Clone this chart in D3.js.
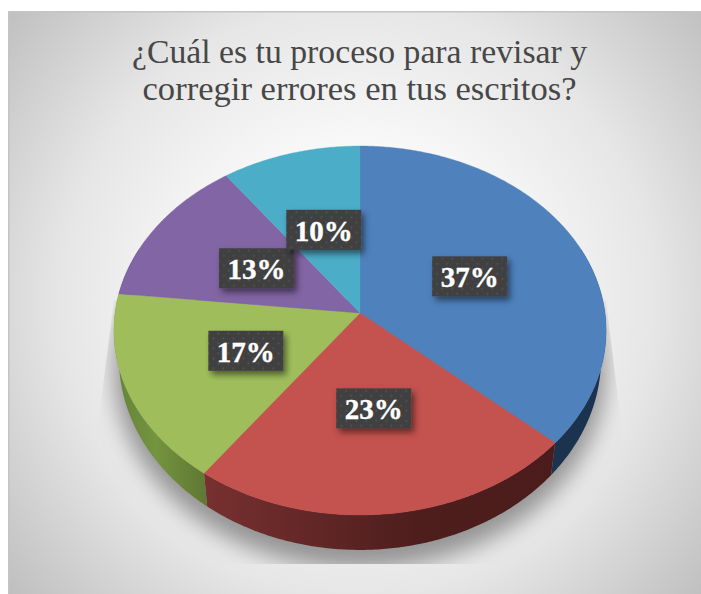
<!DOCTYPE html>
<html><head><meta charset="utf-8">
<script src="https://cdn.jsdelivr.net/npm/d3@7"></script>
<style>html,body{margin:0;padding:0;background:#fff;overflow:hidden}svg{display:block}</style>
</head><body><svg id="c" width="701" height="594"></svg>
<script>
const categories = ["Opción 1","Opción 2","Opción 3","Opción 4","Opción 5"];
const values = [36.6,23.4,16.7,13.3,10];
const topColors = ["#4f81bd","#c4524f","#9fbe5b","#8265a4","#4badc8"];
const wallStops = [
  [["0","#1c3350"],["1","#1c3350"]],
  [["0","#783030"],["0.6","#4e1e1d"],["1","#4c1c1c"]],
  [["0","#64833a"],["0.45","#74943f"],["1","#5f7733"]],
  [["0","#5f4b7a"],["1","#5f4b7a"]],
  [["0","#37808f"],["1","#37808f"]]
];
const titleLines = ["¿Cuál es tu proceso para revisar y","corregir errores en tus escritos?"];

const svg = d3.select("#c"), defs = svg.append("defs");

// background
const bg = defs.append("radialGradient").attr("id","bg").attr("gradientUnits","userSpaceOnUse")
  .attr("cx",358).attr("cy",300).attr("r",480);
[[0,"#ffffff"],[0.28,"#fbfbfb"],[0.62,"#e6e6e6"],[1,"#b9b9b9"]].forEach(s=>bg.append("stop").attr("offset",s[0]).attr("stop-color",s[1]));
svg.append("rect").attr("x",8).attr("y",11).attr("width",693).attr("height",583).attr("fill","#c4c4c4");
svg.append("rect").attr("x",9.5).attr("y",12.5).attr("width",691.5).attr("height",581.5).attr("fill","url(#bg)");

// perspective pie geometry
const k = 0.0949;
const xScale = d3.scaleLinear().domain([-1,1]).range([115,605]);
const yScale = d3.scaleLinear().domain([-1,1]).range([130.2,495.8]);
const xBase = d3.scaleLinear().domain([-1,1]).range([120,600]);
const yBase = d3.scaleLinear().domain([-1,1]).range([150,530]);
const proj = (ang,r,xs,ys)=>{
  const X = r*Math.sin(ang), Y = -r*Math.cos(ang), w = 1-k*Y;
  return [xs(X/w), ys(Y/w)];
};
const pie = d3.pie().sort(null).value(d=>d)(values);
const line = d3.line();
const arcPts = (a0,a1,xs,ys)=>{
  const n = Math.max(2,Math.ceil(Math.abs(a1-a0)/0.01));
  return d3.range(n+1).map(i=>proj(a0+(a1-a0)*i/n,1,xs,ys));
};

// shadow
defs.append("filter").attr("id","blur").attr("x","-20%").attr("y","-20%").attr("width","140%").attr("height","140%")
  .append("feGaussianBlur").attr("stdDeviation",11);
defs.append("clipPath").attr("id","shClip").append("path")
  .attr("d","M114,300L97,432L97,564L622,564L622,432L606,300Z");
const shadowPts = arcPts(0,2*Math.PI,d3.scaleLinear().domain([-1,1]).range([115,605]),d3.scaleLinear().domain([-1,1]).range([152,548]));
svg.append("g").attr("clip-path","url(#shClip)").append("path")
  .attr("d",line(shadowPts)+"Z").attr("fill","#858585").attr("fill-opacity",0.85).attr("filter","url(#blur)");

// walls
const lo = 1.2, hi = 2*Math.PI-1.2;
pie.forEach((d,i)=>{
  const a0 = Math.max(d.startAngle,lo), a1 = Math.min(d.endAngle,hi);
  if(a1<=a0) return;
  const t = arcPts(a0,a1,xScale,yScale), b = arcPts(a0,a1,xBase,yBase).reverse();
  const xs = t.concat(b).map(p=>p[0]);
  const g = defs.append("linearGradient").attr("id","w"+i).attr("gradientUnits","userSpaceOnUse")
    .attr("x1",d3.min(xs)).attr("x2",d3.max(xs)).attr("y1",0).attr("y2",0);
  wallStops[i].forEach(s=>g.append("stop").attr("offset",s[0]).attr("stop-color",s[1]));
  svg.append("path").attr("d",line(t.concat(b))+"Z").attr("fill",`url(#w${i})`);
});

// top face
pie.forEach((d,i)=>{
  const pts = [proj(0,0,xScale,yScale)].concat(arcPts(d.startAngle,d.endAngle,xScale,yScale));
  svg.append("path").attr("d",line(pts)+"Z").attr("fill",topColors[i]).attr("stroke",topColors[i]).attr("stroke-width",0.4);
});

// label boxes
const pat = defs.append("pattern").attr("id","dots").attr("patternUnits","userSpaceOnUse").attr("width",10).attr("height",10);
pat.append("rect").attr("width",10).attr("height",10).attr("fill","#3f3f3f");
[[2.5,2.5],[7.5,7.5]].forEach(c=>pat.append("circle").attr("cx",c[0]).attr("cy",c[1]).attr("r",1).attr("fill","#565656"));
const fs = defs.append("filter").attr("id","boxShadow").attr("x","-30%").attr("y","-30%").attr("width","160%").attr("height","170%");
fs.append("feDropShadow").attr("dx",3).attr("dy",4).attr("stdDeviation",3).attr("flood-color","#000").attr("flood-opacity",0.5);
const bw = 75, bh = 40;
pie.forEach((d,i)=>{
  const p = proj((d.startAngle+d.endAngle)/2,0.5,xScale,yScale);
  const g = svg.append("g").attr("transform",`translate(${p[0]},${p[1]})`);
  g.append("rect").attr("x",-bw/2).attr("y",-bh/2).attr("width",bw).attr("height",bh).attr("fill","url(#dots)").attr("filter","url(#boxShadow)");
  g.append("text").attr("text-anchor","middle").attr("y",11)
    .attr("font-family","'Liberation Serif',serif").attr("font-weight","bold").attr("font-size",29)
    .attr("stroke","#fff").attr("stroke-width",0.4)
    .attr("fill","#fff").text(d3.format("d")(values[i])+"%");
});

// title
const titleWidths = [455,434];
titleLines.forEach((t,i)=>{
  svg.append("text").attr("x",359.5).attr("y",63+i*36.5).attr("text-anchor","middle")
    .attr("font-family","'Liberation Serif',serif").attr("font-size",33).attr("fill","#474747")
    .attr("textLength",titleWidths[i]).attr("lengthAdjust","spacingAndGlyphs").text(t);
});
</script></body></html>
